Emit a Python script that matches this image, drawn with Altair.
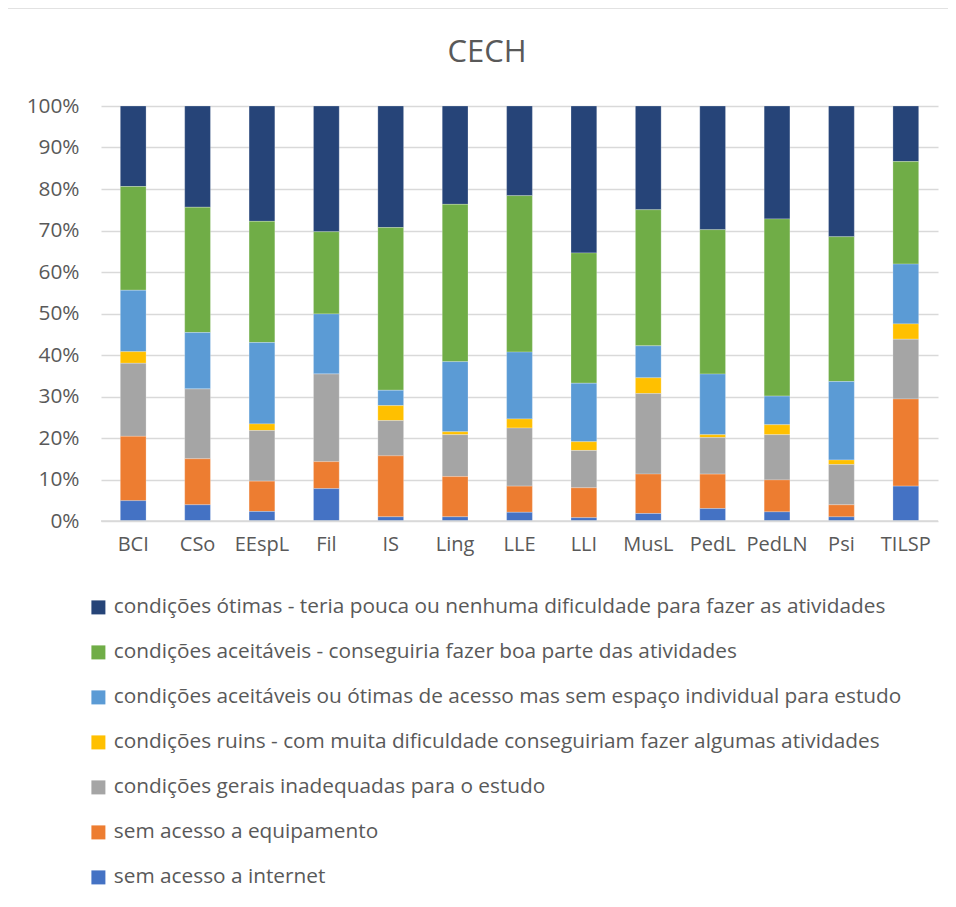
import altair as alt
import pandas as pd

categories = ["BCI", "CSo", "EEspL", "Fil", "IS", "Ling", "LLE", "LLI", "MusL", "PedL", "PedLN", "Psi", "TILSP"]

series_names = [
    "condições ótimas - teria pouca ou nenhuma dificuldade para fazer as atividades",
    "condições aceitáveis - conseguiria fazer boa parte das atividades",
    "condições aceitáveis ou ótimas de acesso mas sem espaço individual para estudo",
    "condições ruins - com muita dificuldade conseguiriam fazer algumas atividades",
    "condições gerais inadequadas para o estudo",
    "sem acesso a equipamento",
    "sem acesso a internet",
]
series_colors = ["#264478", "#70AD47", "#5B9BD5", "#FFC000", "#A5A5A5", "#ED7D31", "#4472C4"]

otimas      = [19.4, 24.4, 27.8, 30.3, 29.3, 23.7, 21.6, 35.4, 25.0, 29.8, 27.2, 31.5, 13.4]
aceitaveis  = [25.0, 30.2, 29.2, 19.8, 39.2, 37.9, 37.7, 31.4, 32.8, 34.8, 42.7, 34.9, 24.7]
sem_espaco  = [14.8, 13.6, 19.6, 14.5, 3.7, 16.9, 16.1, 14.1, 7.7, 14.6, 6.9, 18.9, 14.4]
ruins       = [2.8, 0.0, 1.6, 0.0, 3.6, 0.7, 2.2, 2.1, 3.8, 0.7, 2.4, 1.1, 3.7]
inadequadas = [17.6, 16.8, 12.2, 21.1, 8.5, 10.1, 14.0, 9.0, 19.4, 8.8, 10.9, 9.7, 14.4]
sem_equip   = [15.5, 11.1, 7.3, 6.5, 14.7, 9.7, 6.3, 7.2, 9.5, 8.3, 7.7, 2.9, 21.0]
sem_internet = [4.9, 3.9, 2.3, 7.8, 1.0, 1.0, 2.1, 0.8, 1.8, 3.0, 2.2, 1.0, 8.4]

chart_title = ["CECH"]

all_series = [otimas, aceitaveis, sem_espaco, ruins, inadequadas, sem_equip, sem_internet]

rows = []
for si, (name, vals) in enumerate(zip(series_names, all_series)):
    for cat, v in zip(categories, vals):
        rows.append({"cat": cat, "serie": name, "valor": v, "ordem": 6 - si})
df = pd.DataFrame(rows)

FONT = "Open Sans"
GRAY_TXT = "#595959"

bars = alt.Chart(df).mark_bar(stroke="white", strokeWidth=0.4, strokeOpacity=0.6).encode(
    x=alt.X("cat:N", sort=categories, title=None,
            scale=alt.Scale(paddingInner=0.6, paddingOuter=0.3),
            axis=alt.Axis(labelAngle=0, labelFontSize=20, labelColor=GRAY_TXT, labelFont=FONT,
                          ticks=False, domain=False, labelPadding=13)),
    y=alt.Y("valor:Q", stack="normalize", title=None,
            scale=alt.Scale(domain=[0, 1]),
            axis=alt.Axis(format=".0%", values=[0, 0.1, 0.2, 0.3, 0.4, 0.5, 0.6, 0.7, 0.8, 0.9, 1.0],
                          labelFontSize=20.8, labelColor=GRAY_TXT, labelFont=FONT,
                          ticks=False, domain=False, labelPadding=22,
                          gridColor="#D9D9D9", gridWidth=1.5)),
    color=alt.Color("serie:N", sort=series_names,
                    scale=alt.Scale(domain=series_names, range=series_colors),
                    legend=alt.Legend(title=None, orient="none", legendX=-13, legendY=491,
                                      direction="vertical", columns=1,
                                      symbolType="square", symbolSize=196, symbolStrokeWidth=0,
                                      labelFontSize=20.8, labelFont=FONT, labelColor=GRAY_TXT,
                                      labelLimit=900, rowPadding=23, labelOffset=5)),
    order=alt.Order("ordem:Q", sort="ascending"),
)

baseline = alt.Chart(pd.DataFrame({"y": [0]})).mark_rule(color="#D9D9D9", strokeWidth=1.5).encode(
    y="y:Q", x=alt.value(0), x2=alt.value(837)
)

title_text = alt.Chart(pd.DataFrame({"t": chart_title})).mark_text(
    font=FONT, fontSize=31, color=GRAY_TXT, align="center", baseline="middle"
).encode(text="t:N", x=alt.value(386), y=alt.value(-53))

border = alt.Chart(pd.DataFrame({"a": [0]})).mark_rect(fill=None, stroke="#D9D9D9", strokeWidth=1.5).encode(
    x=alt.value(-96), x2=alt.value(900), y=alt.value(-98), y2=alt.value(850)
)

chart = alt.layer(border, title_text, bars, baseline).properties(
    width=837, height=415,
    autosize=alt.AutoSizeParams(type="none"),
    padding={"left": 93, "top": 98, "right": 10, "bottom": 380},
).configure_view(stroke=None)

chart.save("out.html", embed_options={"renderer": "svg", "actions": False})
